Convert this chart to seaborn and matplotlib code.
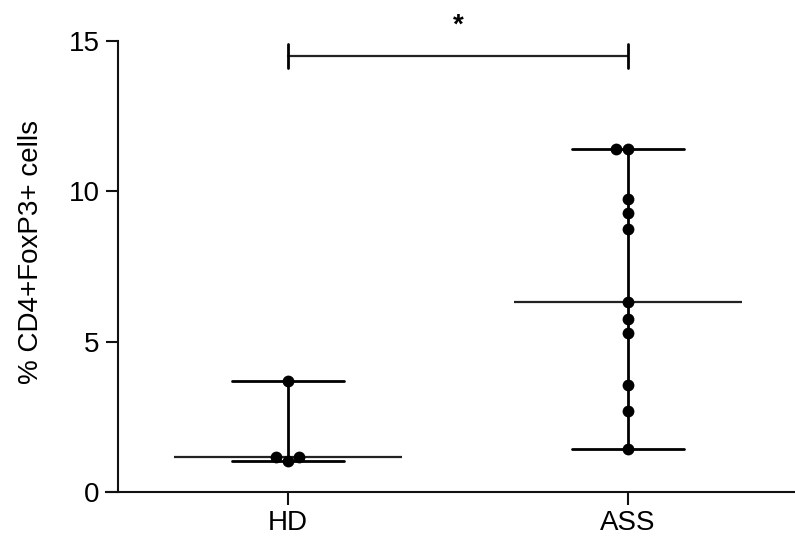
import numpy as np
import pandas as pd
import matplotlib
matplotlib.use("Agg")
import matplotlib.pyplot as plt
import seaborn as sns

groups = ["HD", "ASS"]
hd_values = [3.69, 1.15, 1.03, 1.18]
ass_values = [11.40, 11.41, 9.73, 9.29, 8.74, 6.32, 5.74, 5.30, 3.57, 2.69, 1.43]
y_ticks = [0, 5, 10, 15]
y_label = "% CD4+FoxP3+ cells"
sig_label = "*"

df = pd.DataFrame({
    "group": ["HD"] * len(hd_values) + ["ASS"] * len(ass_values),
    "value": hd_values + ass_values,
})

sns.set_theme(style="ticks")
plt.rcParams["font.family"] = ["Liberation Sans", "DejaVu Sans"]
plt.rcParams["text.color"] = "black"

fig = plt.figure(figsize=(7.95, 5.51), dpi=100)
W, H = 795, 551
ax = fig.add_axes([106 / W, 1 - 492 / H, (795 - 106) / W, (492 - 41) / H])

# range (min-max) with caps
sns.pointplot(data=df, x="group", y="value", order=groups, estimator="median",
              errorbar=("pi", 100), capsize=0.33, color="black",
              linestyle="none", marker="", err_kws={"linewidth": 2.0},
              ax=ax, zorder=2)

# median lines
med = df.groupby("group")["value"].median()
for i, g in enumerate(groups):
    ax.hlines(med[g], i - 0.334, i + 0.334, color="#222222", linewidth=1.6, zorder=2)

# points
sns.swarmplot(data=df, x="group", y="value", order=groups, color="black",
              size=8.5, ax=ax, zorder=3)

ax.set_xlim(-0.535, 1.491)
ax.set_ylim(0, 15)
ax.set_yticks(y_ticks)
ax.set_xlabel("")
ax.set_ylabel(y_label, fontsize=20, color="black")
ax.yaxis.set_label_coords(-0.090, 0.532)
ax.tick_params(axis="both", labelsize=20, length=9, width=1.5, color="#111111",
               labelcolor="black", pad=4)

ax.spines["top"].set_visible(False)
ax.spines["right"].set_visible(False)
ax.spines["left"].set_position(("data", -0.5))
for s in ["left", "bottom"]:
    ax.spines[s].set_linewidth(1.5)
    ax.spines[s].set_color("#111111")

# significance bar
ax.plot([0, 1], [14.5, 14.5], color="#222222", linewidth=1.6, clip_on=False)
ax.plot([0, 0], [14.1, 14.9], color="black", linewidth=2, clip_on=False)
ax.plot([1, 1], [14.1, 14.9], color="black", linewidth=2, clip_on=False)
ax.text(0.5, 15.5, sig_label, ha="center", va="center", fontsize=20,
        fontweight="bold", color="black")

fig.savefig("out.png", dpi=100)
